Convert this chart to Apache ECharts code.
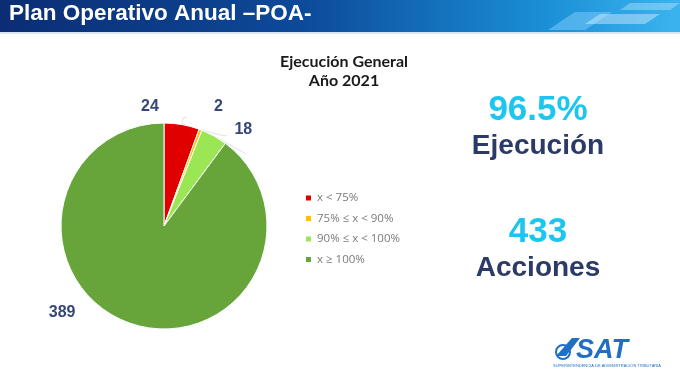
<!DOCTYPE html>
<html><head><meta charset="utf-8">
<script src="https://cdn.jsdelivr.net/npm/echarts@6/dist/echarts.min.js"></script>
<style>html,body{margin:0;padding:0;background:#fff}#c{width:680px;height:374px}</style>
</head><body><div id="c"></div>
<script>
const categories = ['x < 75%', '75% ≤ x < 90%', '90% ≤ x < 100%', 'x ≥ 100%'];
const values = [24, 2, 18, 389];
const colors = ['#e00000', '#ffc000', '#9be655', '#67a53b'];
const headerTitle = 'Plan Operativo Anual –POA-';
const chartTitle = 'Ejecución General\nAño 2021';
const kpiPercent = '96.5%';
const kpiPercentLabel = 'Ejecución';
const kpiTotal = '433';
const kpiTotalLabel = 'Acciones';
// small nudges of the value labels, in pixels, to mimic the original placement
const labelNudge = [[-51, -11], [-18, -29], [-17, -24], [-45, -18]];

const chart = echarts.init(document.getElementById('c'), null, {renderer: 'canvas'});
chart.setOption({
  animation: false,
  backgroundColor: '#ffffff',
  title: {
    text: chartTitle, left: 339, top: 47, textAlign: 'center',
    textStyle: {fontFamily: 'Lato', fontSize: 16, fontWeight: 'bold', color: '#1a1a1a', lineHeight: 19}
  },
  legend: {
    orient: 'vertical', left: 299, top: 187, itemWidth: 7, itemHeight: 7, itemGap: 8.5,
    icon: 'rect',
    textStyle: {fontFamily: 'Open Sans', fontSize: 11.5, color: '#7a7a7a'},
    data: categories
  },
  graphic: [
    {type: 'rect', shape: {x: 0, y: 0, width: 680, height: 32}, z: 0,
     style: {fill: new echarts.graphic.LinearGradient(0, 0, 1, 0, [
       {offset: 0, color: '#0b2d74'}, {offset: 0.45, color: '#0d4a9a'}, {offset: 0.8, color: '#1a8fd6'}, {offset: 1, color: '#3bb4ee'}])}},
    {type: 'rect', shape: {x: 0, y: 32, width: 680, height: 2}, style: {fill: '#d8e6f2'}},
    {type: 'polygon', shape: {points: [[548, 30], [575, 12], [612, 12], [585, 30]]}, style: {fill: 'rgba(120,200,250,0.55)'}},
    {type: 'polygon', shape: {points: [[585, 24], [600, 14], [660, 14], [645, 24]]}, style: {fill: 'rgba(220,240,255,0.45)'}},
    {type: 'polygon', shape: {points: [[620, 10], [630, 3], [680, 3], [670, 10]]}, style: {fill: 'rgba(180,225,255,0.45)'}},
    {type: 'text', x: 9, y: 25, style: {text: headerTitle, fill: '#ffffff', font: 'bold 22.5px "Liberation Sans", Arial', textVerticalAlign: 'bottom'}},
    {type: 'text', x: 538, y: 110, style: {text: kpiPercent, fill: '#1cc6ef', font: 'bold 35px "Liberation Sans", Arial', textAlign: 'center', textVerticalAlign: 'middle'}},
    {type: 'text', x: 538, y: 146, style: {text: kpiPercentLabel, fill: '#2b3a67', font: 'bold 28px "Liberation Sans", Arial', textAlign: 'center', textVerticalAlign: 'middle'}},
    {type: 'text', x: 538, y: 232, style: {text: kpiTotal, fill: '#1cc6ef', font: 'bold 35px "Liberation Sans", Arial', textAlign: 'center', textVerticalAlign: 'middle'}},
    {type: 'text', x: 538, y: 268, style: {text: kpiTotalLabel, fill: '#2b3a67', font: 'bold 28px "Liberation Sans", Arial', textAlign: 'center', textVerticalAlign: 'middle'}},
    {type: 'text', x: 602, y: 351, style: {text: 'SAT', fill: '#1f6fc4', font: 'italic bold 27px "Liberation Sans", Arial', textAlign: 'center', textVerticalAlign: 'middle'}},
    {type: 'text', x: 607, y: 366, style: {text: 'SUPERINTENDENCIA DE ADMINISTRACIÓN TRIBUTARIA', fill: '#1f6fc4', font: '4px "Liberation Sans", Arial', textAlign: 'center', textVerticalAlign: 'middle'}},
    {type: 'polygon', shape: {points: [[556, 356], [572, 338], [580, 338], [566, 356]]}, style: {fill: '#1f6fc4'}},
    {type: 'circle', shape: {cx: 563, cy: 352, r: 7}, style: {fill: 'none', stroke: '#1f6fc4', lineWidth: 2}}
  ],
  series: [{
    type: 'pie',
    center: [164, 226],
    radius: 103,
    startAngle: 90,
    clockwise: true,
    data: categories.map((c, i) => ({
      name: c, value: values[i], itemStyle: {color: colors[i]},
      labelLine: {show: i < 3}
    })),
    itemStyle: {borderColor: '#ffffff', borderWidth: 1},
    label: {
      show: true, position: 'outside', formatter: '{c}',
      fontFamily: '"Liberation Sans", Arial', fontWeight: 'bold', fontSize: 16, color: '#34477a'
    },
    labelLine: {show: true, length: 7, length2: 4, lineStyle: {color: '#e2e2e2', width: 1}},
    labelLayout: function (p) {
      const n = labelNudge[p.dataIndex];
      return {dx: n[0], dy: n[1]};
    },
    emphasis: {disabled: true}
  }]
});
</script></body></html>
